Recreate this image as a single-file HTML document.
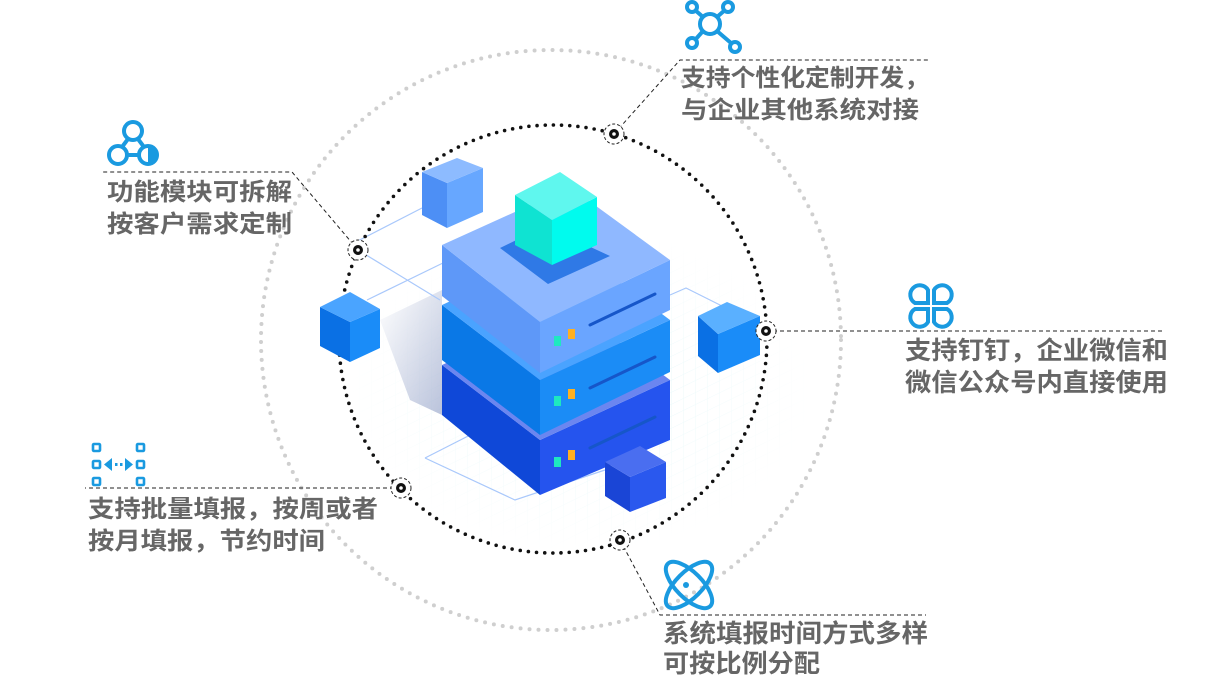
<!DOCTYPE html>
<html><head><meta charset="utf-8"><style>
html,body{margin:0;padding:0;background:#fff;}
svg{display:block}
text{font-family:"Liberation Sans","Noto Sans CJK SC",sans-serif;font-weight:bold;fill:#666;}
</style></head><body>
<svg width="1208" height="693" viewBox="0 0 1208 693" xmlns="http://www.w3.org/2000/svg">
<defs>
<pattern id="grid" width="12" height="12" patternUnits="userSpaceOnUse" patternTransform="skewY(-26)">
<path d="M12 0V12M0 12H12" stroke="#d6f3f6" stroke-width="1" fill="none"/>
</pattern>
<radialGradient id="fade" cx="0.5" cy="0.5" r="0.5"><stop offset="0" stop-color="#fff" stop-opacity="0"/><stop offset="1" stop-color="#fff" stop-opacity="1"/></radialGradient>
<linearGradient id="shadow" x1="0" y1="0" x2="1" y2="1"><stop offset="0" stop-color="#fff"/><stop offset="1" stop-color="#8c9bc4"/></linearGradient>
</defs>
<circle cx="551" cy="340" r="290" fill="none" stroke="#cfcfcf" stroke-width="4" stroke-linecap="round" stroke-dasharray="0 9"/>
<ellipse cx="580" cy="390" rx="230" ry="160" fill="url(#grid)" opacity="0.8"/>
<ellipse cx="580" cy="390" rx="232" ry="162" fill="url(#fade)"/>
<polygon points="380,320 442,290 442,415 410,400" fill="url(#shadow)" opacity="0.6"/>
<g stroke="#a9c8fb" stroke-width="1.2" fill="none">
<polyline points="358,250 440,300"/>
<polyline points="350,245 422,208"/>
<polyline points="367,300 445,262"/>
<polyline points="670,295 686,288 740,315"/>
<polyline points="425,458 515,500 605,470"/>
<polyline points="425,458 480,430"/>
</g>
<circle cx="553" cy="339" r="214" fill="none" stroke="#111" stroke-width="3.6" stroke-linecap="round" stroke-dasharray="0 8.2"/>

<polygon points="442,365 540,440 540,495 442,415" fill="#0f48d8"/>
<polygon points="540,440 670,380 670,440 540,495" fill="#2554ee"/>
<polygon points="442,365 570,305 670,380 540,440" fill="#6b86f0"/>
<polygon points="442,305 540,380 540,435 442,360" fill="#0a78e6"/>
<polygon points="540,380 670,320 670,372 540,435" fill="#1b8cf6"/>
<polygon points="442,305 570,245 670,320 540,380" fill="#4aa3ff"/>
<polygon points="442,245 540,322 540,373 442,296" fill="#5e98f8"/>
<polygon points="540,322 670,260 670,310 540,373" fill="#6aa5ff"/>
<polygon points="442,245 570,187 670,260 540,322" fill="#8fb8ff"/>
<polygon points="500,248 545,226 610,256 548,284" fill="#2f79e6"/>
<polygon points="515,195 552,220 552,265 515,245" fill="#0fe3d2"/>
<polygon points="552,220 597,197 597,245 552,265" fill="#00fbee"/>
<polygon points="515,195 560,172 597,197 552,220" fill="#5ff7ee"/>
<g stroke="#1656c9" stroke-width="3" stroke-linecap="round">
<line x1="590" y1="325" x2="655" y2="294"/>
<line x1="590" y1="388" x2="655" y2="357"/>
<line x1="590" y1="448" x2="655" y2="417"/>
</g>
<g>
<rect x="554" y="336" width="7" height="10" fill="#1ee8c0"/><rect x="568" y="329" width="7" height="10" fill="#ffb020"/>
<rect x="554" y="396" width="7" height="10" fill="#1ee8c0"/><rect x="568" y="389" width="7" height="10" fill="#ffb020"/>
<rect x="554" y="457" width="7" height="10" fill="#1ee8c0"/><rect x="568" y="450" width="7" height="10" fill="#ffb020"/>
</g>
<g>
<polygon points="422,172 447,183 447,228 422,215" fill="#4d8ff5"/>
<polygon points="447,183 483,168 483,212 447,228" fill="#67a7ff"/>
<polygon points="422,172 457,158 483,168 447,183" fill="#8dbbff"/>
</g>
<g>
<polygon points="320,307 350,322 350,362 320,346" fill="#0a70e4"/>
<polygon points="350,322 380,309 380,348 350,362" fill="#1a8cf8"/>
<polygon points="320,307 350,292 380,309 350,322" fill="#4aa4ff"/>
</g>
<g>
<polygon points="698,316 718,334 718,373 698,356" fill="#0a70e4"/>
<polygon points="718,334 760,316 760,355 718,373" fill="#1a8cf8"/>
<polygon points="698,316 727,302 760,316 718,334" fill="#5ab0ff"/>
</g>
<g>
<polygon points="605,462 630,477 630,512 605,496" fill="#1a45d6"/>
<polygon points="630,477 666,462 666,498 630,512" fill="#2a58ee"/>
<polygon points="605,462 640,446 666,462 630,477" fill="#4a6ef0"/>
</g>

<g stroke="#222" stroke-width="1" stroke-dasharray="4 3" fill="none">
<polyline points="614,134 680,60 930,60"/>
<polyline points="358,250 292,172 103,172"/>
<polyline points="766,331 1165,331"/>
<polyline points="401,488 85,488"/>
<polyline points="620,540 660,615 926,615"/>
</g>
<g>
<g transform="translate(614,134)"><circle r="10" fill="#fff" stroke="#222" stroke-dasharray="3 2"/><circle r="5" fill="#111"/><circle r="1.8" fill="#fff"/></g>
<g transform="translate(358,250)"><circle r="10" fill="#fff" stroke="#222" stroke-dasharray="3 2"/><circle r="5" fill="#111"/><circle r="1.8" fill="#fff"/></g>
<g transform="translate(766,331)"><circle r="10" fill="#fff" stroke="#222" stroke-dasharray="3 2"/><circle r="5" fill="#111"/><circle r="1.8" fill="#fff"/></g>
<g transform="translate(401,488)"><circle r="10" fill="#fff" stroke="#222" stroke-dasharray="3 2"/><circle r="5" fill="#111"/><circle r="1.8" fill="#fff"/></g>
<g transform="translate(620,540)"><circle r="10" fill="#fff" stroke="#222" stroke-dasharray="3 2"/><circle r="5" fill="#111"/><circle r="1.8" fill="#fff"/></g>
</g>

<g stroke="#1a9ae0" stroke-width="4" fill="none">
<circle cx="710" cy="24" r="10"/>
<circle cx="692" cy="7" r="5"/><circle cx="728" cy="7" r="5"/>
<circle cx="692" cy="43" r="5"/><circle cx="735" cy="47" r="5"/>
<line x1="695" y1="10" x2="703" y2="17"/><line x1="725" y1="10" x2="717" y2="17"/>
<line x1="695" y1="40" x2="703" y2="31"/><line x1="731" y1="43" x2="717" y2="31"/>
<circle cx="133" cy="131" r="9"/><circle cx="118" cy="155" r="9"/><circle cx="148" cy="155" r="9"/>
<line x1="128" y1="139" x2="122" y2="147"/><line x1="138" y1="139" x2="144" y2="147"/><line x1="127" y1="155" x2="139" y2="155"/>
<path d="M928 303 H915 A9.5 9.5 0 1 1 928 290 Z"/>
<path d="M934 303 H947 A9.5 9.5 0 1 0 934 290 Z"/>
<path d="M928 309 H915 A9.5 9.5 0 1 0 928 322 Z"/>
<path d="M934 309 H947 A9.5 9.5 0 1 1 934 322 Z"/>
<ellipse cx="689" cy="585" rx="30" ry="13" transform="rotate(-45 689 585)"/>
<ellipse cx="689" cy="585" rx="30" ry="13" transform="rotate(45 689 585)"/>
</g>
<circle cx="686" cy="585" r="3" fill="#1a9ae0"/>
<path d="M148 146 a9 9 0 0 1 0 18 z" fill="#1a9ae0"/>
<g stroke="#1a9ae0" stroke-width="2.6" fill="none">
<rect x="93" y="444" width="7" height="7" rx="1"/><rect x="137" y="444" width="7" height="7" rx="1"/>
<rect x="93" y="461" width="7" height="7" rx="1"/><rect x="137" y="461" width="7" height="7" rx="1"/>
<rect x="93" y="478" width="7" height="7" rx="1"/><rect x="137" y="478" width="7" height="7" rx="1"/>
</g>
<g fill="#1a9ae0"><polygon points="104,464.5 112,458 112,471"/><polygon points="133,464.5 125,458 125,471"/><rect x="115" y="463" width="2.5" height="3"/><rect x="120" y="463" width="2.5" height="3"/></g>

<text x="681" y="86" font-size="24" textLength="248" lengthAdjust="spacingAndGlyphs">支持个性化定制开发，</text>
<text x="681" y="118" font-size="24" textLength="238" lengthAdjust="spacingAndGlyphs">与企业其他系统对接</text>
<text x="107" y="200" font-size="24" textLength="185" lengthAdjust="spacingAndGlyphs">功能模块可拆解</text>
<text x="107" y="232" font-size="24" textLength="185" lengthAdjust="spacingAndGlyphs">按客户需求定制</text>
<text x="905" y="359" font-size="25" textLength="263" lengthAdjust="spacingAndGlyphs">支持钉钉，企业微信和</text>
<text x="905" y="391" font-size="25" textLength="263" lengthAdjust="spacingAndGlyphs">微信公众号内直接使用</text>
<text x="88" y="517" font-size="24" textLength="290" lengthAdjust="spacingAndGlyphs">支持批量填报，按周或者</text>
<text x="88" y="549" font-size="24" textLength="237" lengthAdjust="spacingAndGlyphs">按月填报，节约时间</text>
<text x="663" y="642" font-size="25" textLength="265" lengthAdjust="spacingAndGlyphs">系统填报时间方式多样</text>
<text x="663" y="672" font-size="25" textLength="157" lengthAdjust="spacingAndGlyphs">可按比例分配</text>
</svg>
</body></html>
